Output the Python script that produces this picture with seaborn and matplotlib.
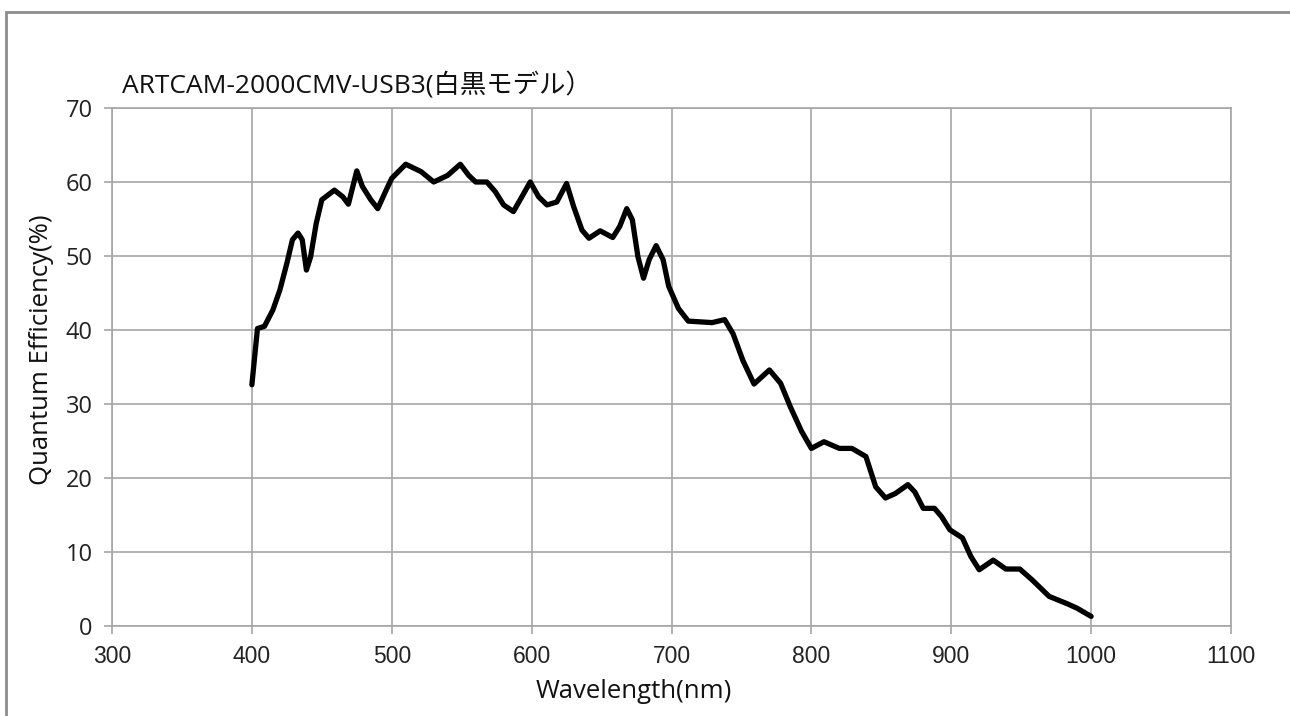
import matplotlib
matplotlib.use('Agg')
import matplotlib.pyplot as plt
import seaborn as sns
import pandas as pd

# -----------------------------
# Data
# -----------------------------
wavelength = [400, 404, 409, 415, 420, 425, 429, 433, 436, 439, 442, 446, 450, 459,
              465, 469, 475, 479, 485, 490, 496, 500, 510, 521, 530, 540, 549, 555,
              560, 568, 574, 580, 587, 593, 599, 605, 611, 618, 625, 630, 636, 641,
              649, 658, 663, 668, 672, 676, 680, 684, 689, 694, 698, 705, 712, 729,
              738, 744, 751, 759, 770, 778, 785, 793, 800, 809, 820, 829, 839, 846,
              853, 860, 869, 874, 880, 888, 893, 899, 908, 914, 920, 930, 939, 949,
              958, 970, 983, 990, 1000]
qe = [32.6, 40.2, 40.5, 42.7, 45.4, 49.0, 52.2, 53.1, 52.2, 48.1, 49.9, 54.4, 57.6, 58.9,
      58.0, 57.0, 61.5, 59.4, 57.6, 56.4, 58.9, 60.5, 62.4, 61.4, 60.0, 60.9, 62.4, 60.9,
      60.0, 60.0, 58.7, 56.9, 56.0, 58.0, 60.0, 58.0, 56.9, 57.3, 59.8, 56.7, 53.5, 52.4,
      53.4, 52.5, 54.0, 56.4, 54.9, 49.9, 47.0, 49.5, 51.4, 49.5, 45.9, 42.9, 41.2, 41.0,
      41.4, 39.5, 35.9, 32.7, 34.6, 32.8, 29.6, 26.3, 24.0, 24.9, 24.0, 24.0, 22.9, 18.8,
      17.3, 17.9, 19.1, 18.1, 15.9, 15.9, 14.8, 13.0, 11.9, 9.4, 7.6, 8.9, 7.7, 7.7,
      6.2, 4.0, 3.0, 2.4, 1.3]

x_ticks = [300, 400, 500, 600, 700, 800, 900, 1000, 1100]
y_ticks = [0, 10, 20, 30, 40, 50, 60, 70]

title = 'ARTCAM-2000CMV-USB3(白黒モデル）'
x_label = 'Wavelength(nm)'
y_label = 'Quantum Efficiency(%)'

df = pd.DataFrame({'Wavelength': wavelength, 'QE': qe})

# -----------------------------
# Style
# -----------------------------
sns.set_style('white')
plt.rcParams['font.family'] = ['Open Sans', 'Noto Sans CJK JP', 'DejaVu Sans']

grid_col = '#a6a6a6'

fig = plt.figure(figsize=(12.9, 7.16), dpi=100)
ax = fig.add_axes([112 / 1290, 1 - 626 / 716, (1231 - 112) / 1290, (626 - 108) / 716])

sns.lineplot(data=df, x='Wavelength', y='QE', ax=ax, color='black', linewidth=3.8,
             solid_joinstyle='round', solid_capstyle='round')

ax.set_xlim(300, 1100)
ax.set_ylim(0, 70)
ax.set_xticks(x_ticks)
ax.set_yticks(y_ticks)
ax.grid(True, color=grid_col, linewidth=1.2)
for s in ax.spines.values():
    s.set_color(grid_col)
    s.set_linewidth(1.2)
ax.tick_params(axis='both', which='major', length=6, width=1.2, color=grid_col,
               direction='out', left=True, bottom=True)
ax.tick_params(axis='y', labelsize=17, pad=8, labelcolor='#222222')
ax.tick_params(axis='x', labelsize=15, pad=8, labelcolor='#222222')
for lab in ax.get_xticklabels():
    lab.set_family(['Liberation Sans', 'DejaVu Sans'])
    lab.set_fontsize(16.5)

ax.set_xlabel('')
ax.set_ylabel('')

fig.text(634 / 1290, 1 - 692 / 716, x_label, ha='center', va='center', fontsize=18.5, color='#111111')
fig.text(42 / 1290, 1 - 350 / 716, y_label, ha='center', va='center', rotation=90,
         fontsize=18.5, color='#111111')
fig.text(122 / 1290, 1 - 86 / 716, title, ha='left', va='center', fontsize=19, color='#111111')

# chart area frame
frame = plt.Rectangle((6 / 1290, -0.05), 1.1, 1 - 12 / 716 + 0.05, transform=fig.transFigure,
                      fill=False, edgecolor='#8c8c8c', linewidth=2, clip_on=False)
fig.patches.append(frame)

fig.savefig('out.png', dpi=100)
